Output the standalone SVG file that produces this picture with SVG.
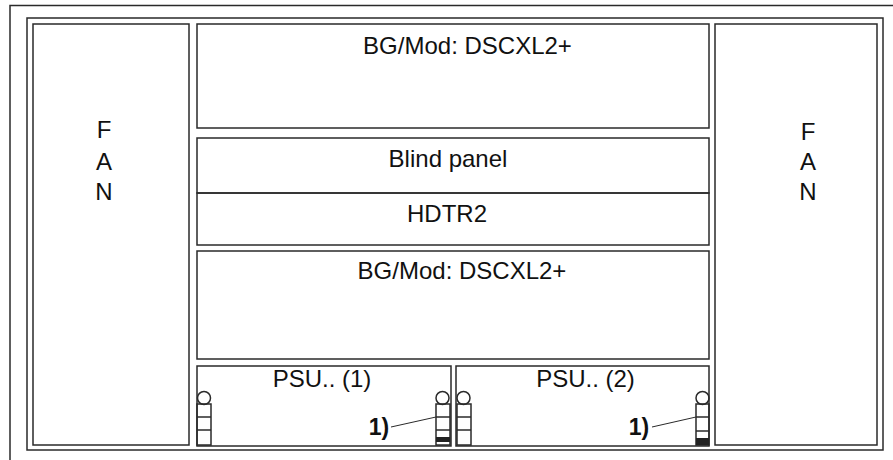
<svg xmlns="http://www.w3.org/2000/svg" width="893" height="460" viewBox="0 0 893 460">
<style>
rect,line,circle,path{fill:none;stroke:#2a2a2a;stroke-width:1.5}
.d{fill:#222;stroke:none}
text{font-family:"Liberation Sans",Arial,sans-serif;font-size:24px;fill:#111;text-anchor:middle}
.b{font-weight:bold;font-size:23px}
</style>
<rect width="893" height="460" style="fill:#fff;stroke:none"/>
<g id="frame"><path d="M893 5.500H10V460"/><rect x="27" y="18" width="856" height="432"/></g>
<g id="fan-left"><rect x="33" y="24" width="156" height="421"/><text x="104" y="138">F</text><text x="104" y="170">A</text><text x="104" y="200">N</text></g>
<g id="fan-right"><rect x="715" y="24" width="162" height="421"/><text x="808" y="140">F</text><text x="808" y="170">A</text><text x="808" y="200">N</text></g>
<g id="mod-top"><rect x="197" y="24" width="512" height="104"/><text x="467.500" y="54">BG/Mod: DSCXL2+</text></g>
<g id="blind"><rect x="197" y="138" width="512" height="55"/><text x="448" y="167">Blind panel</text></g>
<g id="hdtr2"><rect x="197" y="193" width="512" height="52"/><text x="447" y="222">HDTR2</text></g>
<g id="mod-bottom"><rect x="197" y="251" width="512" height="108"/><text x="462" y="279">BG/Mod: DSCXL2+</text></g>
<g id="psu1"><rect x="197" y="366" width="254" height="80"/><text x="322" y="387">PSU.. (1)</text>
<circle cx="204" cy="398" r="6.500"/><rect x="197" y="404" width="14" height="41"/><line x1="197" y1="417" x2="211" y2="417"/><line x1="197" y1="430" x2="211" y2="430"/>
<circle cx="442.500" cy="398" r="6.500"/><rect x="436" y="404" width="14" height="41"/><line x1="436" y1="417" x2="450" y2="417"/><line x1="436" y1="430" x2="450" y2="430"/><rect class="d" x="436" y="437" width="14" height="5"/></g>
<g id="psu2"><rect x="456" y="366" width="253" height="80"/><text x="585.500" y="387">PSU.. (2)</text>
<circle cx="463.500" cy="398" r="6.500"/><rect x="457" y="404" width="14" height="41"/><line x1="457" y1="417" x2="471" y2="417"/><line x1="457" y1="430" x2="471" y2="430"/>
<circle cx="702.500" cy="398" r="6.500"/><rect x="696" y="404" width="13" height="41"/><line x1="696" y1="417" x2="709" y2="417"/><line x1="696" y1="431" x2="709" y2="431"/><rect class="d" x="696" y="438" width="13" height="7"/></g>
<g id="connectors"><line x1="391" y1="427" x2="436" y2="417" style="stroke-width:1"/><line x1="652" y1="427" x2="696" y2="417" style="stroke-width:1"/></g>
<text class="b" x="379" y="435">1)</text><text class="b" x="639" y="435">1)</text>
</svg>
